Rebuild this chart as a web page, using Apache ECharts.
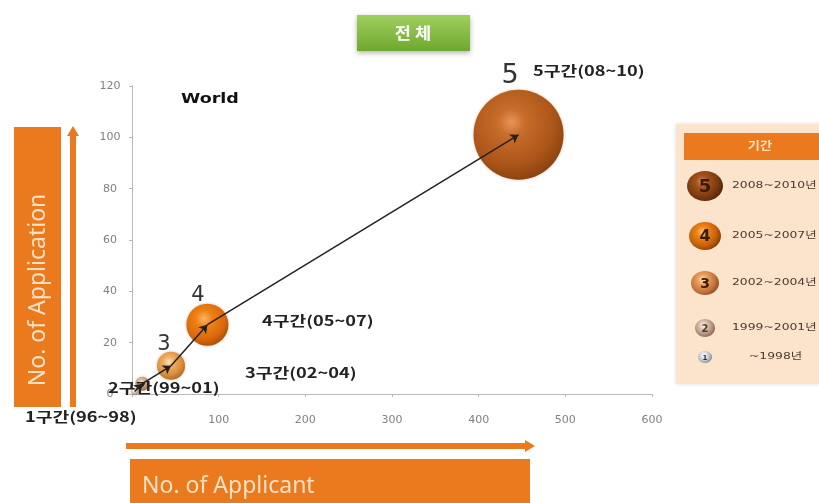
<!DOCTYPE html>
<html>
<head>
<meta charset="utf-8">
<script src="https://cdn.jsdelivr.net/npm/echarts@6/dist/echarts.min.js"></script>
<style>
html,body{margin:0;padding:0;background:#fff;}
#c{width:819px;height:503px;}
</style>
</head>
<body>
<div id="c"></div>
<script>
// ---- data ----
var periods = ['1구간(96~98)', '2구간(99~01)', '3구간(02~04)', '4구간(05~07)', '5구간(08~10)'];
var periodNums = ['1', '2', '3', '4', '5'];
var applicants = [3, 12, 45, 87, 446];       // x: No. of Applicant
var applications = [1, 4, 11, 27, 101];      // y: No. of Application
var bubbleWeight = [0.6, 2.5, 10, 22.5, 103];
var legendYears = ['2008~2010년', '2005~2007년', '2002~2004년', '1999~2001년', '~1998년'];
var xTicks = [0, 100, 200, 300, 400, 500, 600];
var yTicks = [0, 20, 40, 60, 80, 100, 120];

// ---- styles ----
function sphere(c0, c1, c2, c3, s1, s2) {
  return new echarts.graphic.RadialGradient(0.42, 0.36, 0.68, [
    {offset: 0, color: c0}, {offset: s1 || 0.3, color: c1}, {offset: s2 || 0.75, color: c2}, {offset: 1, color: c3}
  ]);
}
var bubbleColors = [
  sphere('#ffffff', '#e6e2dc', '#b9a99a', '#8d7b6b'),
  sphere('#f5e6d6', '#d9b598', '#b58b68', '#8c6547'),
  sphere('#fbe2b6', '#eeae60', '#d68a38', '#a9662a', 0.3, 0.72),
  sphere('#ffb563', '#ee8115', '#d9680c', '#a64b07', 0.3, 0.72),
  sphere('#e8955a', '#c86d2a', '#ad561a', '#87400f', 0.22, 0.68)
];
var KR = '"Noto Sans CJK KR", "Noto Sans", sans-serif';

var bubbleData = applicants.map(function (x, i) {
  return {value: [x, applications[i], bubbleWeight[i]], itemStyle: {color: bubbleColors[i], opacity: 1}};
});
var arrowData = [];
for (var i = 0; i < applicants.length - 1; i++) {
  arrowData.push({coords: [[applicants[i], applications[i]], [applicants[i + 1], applications[i + 1]]]});
}

// stretched text helper (the reference is horizontally stretched)
function stext(x, y, text, font, fill, sx, align) {
  return {type: 'text', x: x, y: y, scaleX: sx || 1, z: 10,
    style: {x: 0, y: 0, text: text, fill: fill, font: font, align: align || 'left', verticalAlign: 'middle'}};
}

// ---- legend graphic ----
var legendG = [];
legendG.push({type: 'rect', shape: {x: 676, y: 124, width: 150, height: 260}, style: {fill: '#fce3cc', shadowBlur: 4, shadowColor: 'rgba(0,0,0,0.15)'}, z: 1});
legendG.push({type: 'rect', shape: {x: 684, y: 133, width: 140, height: 27}, style: {fill: '#eb7a1e'}, z: 2});
legendG.push(stext(760, 146, '기간', 'bold 11px ' + KR, '#fbe0c8', 1.2, 'center'));
var legBall = [
  {cy: 186, rx: 18, ry: 15, c: ['#d9915e', '#a5521c', '#7c3a10', '#5c2a0a'], tc: '#3a1a05', fs: 18},
  {cy: 236, rx: 16, ry: 14, c: ['#ffc27a', '#ee8419', '#c45e0a', '#8a4206'], tc: '#3a1a05', fs: 16},
  {cy: 283, rx: 14, ry: 12, c: ['#fde7bf', '#e9a25e', '#c7733a', '#95532a'], tc: '#3a1a05', fs: 14},
  {cy: 328, rx: 10, ry: 9, c: ['#ffffff', '#dcc7b5', '#b08f78', '#86685a'], tc: '#4a3a30', fs: 10},
  {cy: 357, rx: 7, ry: 6, c: ['#ffffff', '#e5e5e8', '#b5b8c2', '#8a8d99'], tc: '#333', fs: 7}
];
legBall.forEach(function (b, i) {
  legendG.push({type: 'ellipse', shape: {cx: 705, cy: b.cy, rx: b.rx, ry: b.ry},
    style: {fill: sphere(b.c[0], b.c[1], b.c[2], b.c[3])}, z: 3});
  legendG.push({type: 'text', style: {x: 705, y: b.cy + 1, text: periodNums[4 - i], fill: b.tc,
    font: 'bold ' + b.fs + 'px "DejaVu Sans", sans-serif', align: 'center', verticalAlign: 'middle'}, z: 4});
  var t = stext(i === 4 ? 749 : 732, b.cy, legendYears[i], '9.5px "DejaVu Sans", ' + KR, '#4a3a30', 1.3);
  t.z = 4;
  legendG.push(t);
});

var chart = echarts.init(document.getElementById('c'), null, {renderer: 'canvas'});
chart.setOption({
  backgroundColor: '#ffffff',
  animation: false,
  grid: {left: 132, right: 167, top: 86, bottom: 109, containLabel: false},
  xAxis: {
    type: 'value', min: xTicks[0], max: xTicks[xTicks.length - 1], interval: 100,
    axisLine: {show: true, lineStyle: {color: '#b8b8b8', width: 1}},
    axisTick: {show: true, length: 3, lineStyle: {color: '#b8b8b8'}},
    splitLine: {show: false},
    axisLabel: {margin: 21, color: '#808080', fontSize: 11, fontFamily: '"DejaVu Sans", sans-serif',
      formatter: function (v) { return v === 0 ? '' : String(v); }}
  },
  yAxis: {
    type: 'value', min: yTicks[0], max: yTicks[yTicks.length - 1], interval: 20,
    axisLine: {show: true, lineStyle: {color: '#b8b8b8', width: 1}},
    axisTick: {show: true, length: 3, lineStyle: {color: '#b8b8b8'}},
    splitLine: {show: false},
    axisLabel: {margin: 22, align: 'center', color: '#808080', fontSize: 11, fontFamily: '"DejaVu Sans", sans-serif'}
  },
  series: [
    {
      type: 'scatter', z: 2,
      data: bubbleData,
      symbolSize: function (v) { return 8.87 * Math.sqrt(v[2]); },
      itemStyle: {opacity: 1, shadowBlur: 3, shadowColor: 'rgba(120,60,10,0.3)'},
      label: {show: false}
    },
    {
      type: 'lines', coordinateSystem: 'cartesian2d', z: 5,
      symbol: ['none', 'arrow'], symbolSize: [0, 8],
      lineStyle: {color: '#222', width: 1.5, opacity: 1, curveness: 0},
      data: arrowData
    }
  ],
  graphic: [
    // title box
    {type: 'rect', shape: {x: 357, y: 15, width: 113, height: 36},
      style: {fill: new echarts.graphic.LinearGradient(0, 0, 0, 1, [{offset: 0, color: '#9fcf5f'}, {offset: 1, color: '#6fa82e'}]),
        shadowBlur: 5, shadowOffsetY: 2, shadowColor: 'rgba(0,0,0,0.3)'}, z: 10},
    stext(413, 33, '전 체', 'bold 16px ' + KR, '#ffffff', 1.1, 'center'),
    // World
    stext(181, 99, 'World', 'bold 14px "DejaVu Sans", sans-serif', '#111', 1.25),
    // big numbers
    stext(510, 76, '5', '27px "DejaVu Sans", sans-serif', '#333', 1, 'center'),
    stext(198, 296, '4', '21px "DejaVu Sans", sans-serif', '#333', 1, 'center'),
    stext(164, 345, '3', '21px "DejaVu Sans", sans-serif', '#333', 1, 'center'),
    // period labels
    stext(533, 71, periods[4], 'bold 14px ' + KR, '#222', 1.3),
    stext(262, 321, periods[3], 'bold 14px ' + KR, '#222', 1.3),
    stext(245, 373, periods[2], 'bold 14px ' + KR, '#222', 1.3),
    stext(108, 388, periods[1], 'bold 14px ' + KR, '#222', 1.3),
    stext(25, 417, periods[0], 'bold 14px ' + KR, '#222', 1.3),
    // left orange box + arrow
    {type: 'rect', shape: {x: 14, y: 127, width: 47, height: 280}, style: {fill: '#eb7a1e'}, z: 10},
    {type: 'text', rotation: Math.PI / 2, x: 38, y: 290,
      style: {x: 0, y: 0, text: 'No. of Application', fill: '#fde2c6', font: '23px "Noto Sans", sans-serif', align: 'center', verticalAlign: 'middle'}, z: 11},
    {type: 'rect', shape: {x: 70, y: 135, width: 6, height: 272}, style: {fill: '#eb7a1e'}, z: 10},
    {type: 'polygon', shape: {points: [[67, 136], [79, 136], [73, 126]]}, style: {fill: '#eb7a1e'}, z: 10},
    // bottom arrow + box
    {type: 'rect', shape: {x: 126, y: 443, width: 400, height: 6}, style: {fill: '#eb7a1e'}, z: 10},
    {type: 'polygon', shape: {points: [[525, 440], [525, 452], [535, 446]]}, style: {fill: '#eb7a1e'}, z: 10},
    {type: 'rect', shape: {x: 130, y: 459, width: 400, height: 50}, style: {fill: '#eb7a1e'}, z: 10},
    {type: 'text', style: {x: 142, y: 486, text: 'No. of Applicant', fill: '#fde2c6', font: '23px "Noto Sans", sans-serif', verticalAlign: 'middle'}, z: 11}
  ].concat(legendG)
});
</script>
</body>
</html>
